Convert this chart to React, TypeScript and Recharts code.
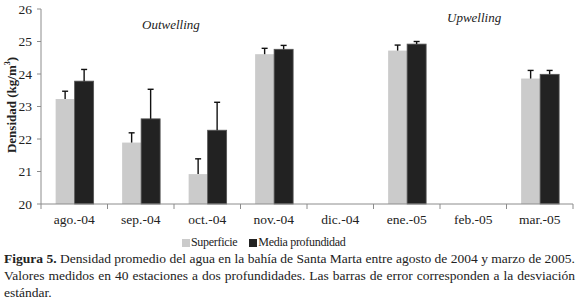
import React from 'react';
import { Bar, BarChart, XAxis, YAxis } from 'recharts';

// monthly means (kg/m3) and standard deviation
const months = ['ago.-04', 'sep.-04', 'oct.-04', 'nov.-04', 'dic.-04', 'ene.-05', 'feb.-05', 'mar.-05'];
const superficie = [23.23, 21.89, 20.92, 24.61, null, 24.72, null, 23.86];
const superficieSd = [0.24, 0.3, 0.47, 0.18, null, 0.17, null, 0.25];
const media = [23.78, 22.62, 22.27, 24.76, null, 24.92, null, 23.99];
const mediaSd = [0.36, 0.91, 0.86, 0.12, null, 0.08, null, 0.12];
const yTicks = [20, 21, 22, 23, 24, 25, 26];
const yMin = 20;

const data = months.map((m, i) => ({
  month: m,
  sup: superficie[i],
  supErr: superficieSd[i],
  med: media[i],
  medErr: mediaSd[i]
}));

const serif = '"Liberation Serif", "Times New Roman", Times, serif';
const axisColor = '#8c8c8c';

// bar + upward-only error whisker; pixel length comes from the bar's own scale
const barWithError = (fill: string, stroke: string | undefined, errKey: string, valKey: string) => (props: any) => {
  const { x, y, width, height, payload } = props;
  const v = payload[valKey];
  const err = payload[errKey];
  if (v == null || !height) return <g />;
  const pxPerUnit = height / (v - yMin);
  const cx = x + width / 2;
  const top = y - (err || 0) * pxPerUnit;
  return (
    <g>
      <rect x={x} y={y} width={width} height={height} fill={fill} stroke={stroke} strokeWidth={stroke ? 0.8 : 0} />
      {err != null && (
        <g stroke='#111' strokeWidth={1.4}>
          <line x1={cx} x2={cx} y1={y} y2={top} />
          <line x1={cx - 3} x2={cx + 3} y1={top} y2={top} />
        </g>
      )}
    </g>
  );
};

const MonthTick = (props: any) => {
  const { x, y, payload, index } = props;
  const half = payload.offset || 0;
  const axisY = y - 8;
  return (
    <g>
      <line x1={x - half} x2={x - half} y1={axisY} y2={axisY + 5} stroke={axisColor} />
      {index === months.length - 1 && (
        <line x1={x + half} x2={x + half} y1={axisY} y2={axisY + 5} stroke={axisColor} />
      )}
      <text x={x} y={y + 12} textAnchor='middle' fontFamily={serif} fontSize={13.5} fill='#222'>
        {payload.value}
      </text>
    </g>
  );
};

const LegendItem = ({ color, label }: { color: string; label: string }) => (
  <span style={{ display: 'inline-flex', alignItems: 'center', marginRight: 12 }}>
    <span style={{ width: 8, height: 8, background: color, display: 'inline-block', marginRight: 1 }} />
    {label}
  </span>
);

export default function App() {
  const captionLine: React.CSSProperties = {
    whiteSpace: 'nowrap',
    textAlign: 'justify',
    textAlignLast: 'justify',
    height: 17
  };
  return (
    <div
      style={{
        position: 'absolute',
        left: 0,
        top: 0,
        width: 577,
        height: 303,
        background: '#fff',
        fontFamily: serif,
        color: '#222',
        overflow: 'hidden'
      }}
    >
      <BarChart
        width={577}
        height={230}
        data={data}
        margin={{ top: 9, right: 4, bottom: 0, left: 0 }}
        barCategoryGap='22%'
        barGap={0}
      >
        <XAxis
          dataKey='month'
          axisLine={{ stroke: axisColor }}
          tickLine={false}
          tickSize={6}
          tickMargin={2}
          height={26}
          interval={0}
          tick={<MonthTick />}
        />
        <YAxis
          domain={[20, 26]}
          ticks={yTicks}
          width={41}
          axisLine={{ stroke: axisColor }}
          tickLine={{ stroke: axisColor }}
          tickSize={4}
          tickMargin={5}
          tick={{ fontFamily: serif, fontSize: 13.5, fill: '#222' }}
        />
        <Bar dataKey='sup' fill='#cbcbcb' isAnimationActive={false} shape={barWithError('#cbcbcb', undefined, 'supErr', 'sup')} />
        <Bar dataKey='med' fill='#222222' isAnimationActive={false} shape={barWithError('#222222', '#555', 'medErr', 'med')} />
      </BarChart>

      <div
        style={{
          position: 'absolute',
          left: 12,
          top: 105,
          transform: 'translate(-50%, -50%) rotate(-90deg)',
          whiteSpace: 'nowrap',
          fontWeight: 'bold',
          fontSize: 13
        }}
      >
        Densidad (kg/m<sup style={{ fontSize: 8, verticalAlign: 'top', lineHeight: 1 }}>3</sup>)
      </div>

      <div style={{ position: 'absolute', left: 142, top: 17, fontStyle: 'italic', fontSize: 13 }}>Outwelling</div>
      <div style={{ position: 'absolute', left: 447, top: 10, fontStyle: 'italic', fontSize: 13 }}>Upwelling</div>

      <div style={{ position: 'absolute', left: 182, top: 235, fontSize: 12, display: 'flex', letterSpacing: -0.3 }}>
        <LegendItem color='#cbcbcb' label='Superficie' />
        <LegendItem color='#222222' label='Media profundidad' />
      </div>

      <div style={{ position: 'absolute', left: 4, top: 250, width: 571, fontSize: 13.5, lineHeight: '17px' }}>
        <div style={captionLine}>
          <b>Figura 5.</b> Densidad promedio del agua en la bahía de Santa Marta entre agosto de 2004 y marzo de 2005.
        </div>
        <div style={captionLine}>
          Valores medidos en 40 estaciones a dos profundidades. Las barras de error corresponden a la desviación
        </div>
        <div style={{ height: 17 }}>estándar.</div>
      </div>
    </div>
  );
}
